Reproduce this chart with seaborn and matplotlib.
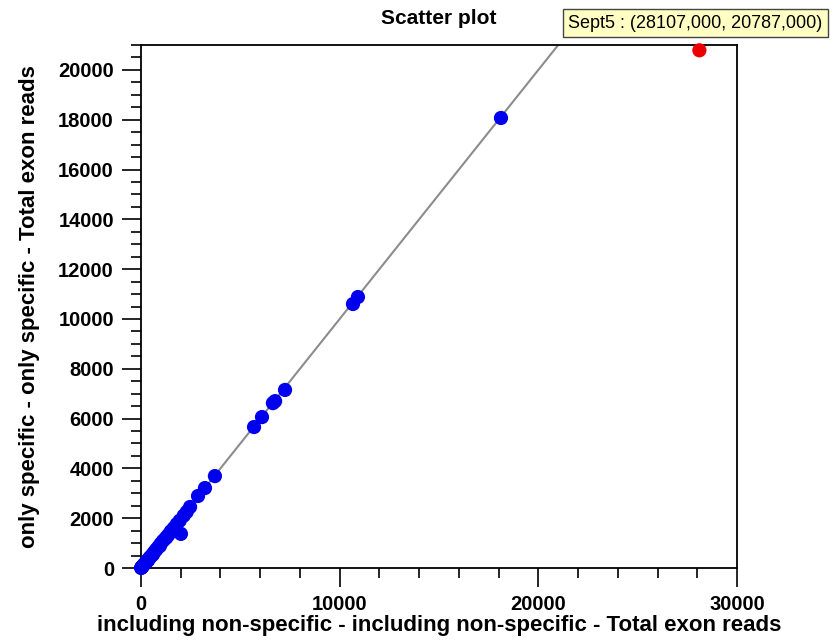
import matplotlib
matplotlib.use("Agg")
import matplotlib.pyplot as plt
import seaborn as sns
import pandas as pd
from matplotlib.ticker import MultipleLocator

x_vals = [18120, 10670, 10920, 7250, 6640, 6750, 6090, 5690, 3720, 3220, 2870, 2470,
          2010, 2150, 1950, 1800, 1650, 1500, 1380, 1250, 1120, 1000, 900, 800,
          720, 640, 560, 480, 420, 360, 300, 250, 200, 150, 110, 80, 50, 30, 15, 5,
          1700, 1300, 950, 600, 350, 2300]
y_vals = [18070, 10600, 10880, 7150, 6620, 6700, 6060, 5660, 3690, 3210, 2890, 2450,
          1370, 2100, 1900, 1760, 1600, 1470, 1330, 1200, 1100, 980, 870, 770,
          690, 610, 520, 450, 400, 330, 280, 230, 180, 140, 100, 70, 40, 20, 10, 3,
          1580, 1250, 880, 540, 300, 2250]
sel_x = [28107]
sel_y = [20787]
tooltip = "Sept5 : (28107,000, 20787,000)"

sns.set_style("white")
plt.rcParams['font.family'] = ['Liberation Sans', 'DejaVu Sans']
plt.rcParams['text.color'] = 'black'
plt.rcParams['axes.labelcolor'] = 'black'
plt.rcParams['xtick.color'] = 'black'
plt.rcParams['ytick.color'] = 'black'

fig = plt.figure(figsize=(8.39, 6.42), dpi=100)
ax = fig.add_axes([141/839, 1-568/642, (737-141)/839, (568-45)/642])

ax.plot([0, 30000], [0, 30000], color='#8c8c8c', lw=1.5, zorder=1)

df = pd.DataFrame({"x": x_vals, "y": y_vals})
sns.scatterplot(data=df, x="x", y="y", color='#0000ee', s=105, edgecolor='none',
                ax=ax, zorder=3, clip_on=False)
dsel = pd.DataFrame({"x": sel_x, "y": sel_y})
sns.scatterplot(data=dsel, x="x", y="y", color='#ee0000', s=105, edgecolor='none',
                ax=ax, zorder=4, clip_on=False)

ax.set_xlim(0, 30000)
ax.set_ylim(0, 21000)
ax.xaxis.set_major_locator(MultipleLocator(10000))
ax.xaxis.set_minor_locator(MultipleLocator(2000))
ax.yaxis.set_major_locator(MultipleLocator(2000))
ax.yaxis.set_minor_locator(MultipleLocator(500))
ax.tick_params(which='both', direction='out', color='black', width=1.2,
               bottom=True, left=True, top=False, right=False)
ax.tick_params(which='major', length=13.5, labelsize=14.5, pad=6)
ax.tick_params(which='minor', length=7)
for lab in ax.get_xticklabels() + ax.get_yticklabels():
    lab.set_fontweight('bold')
for sp in ax.spines.values():
    sp.set_color('black')
    sp.set_linewidth(1.3)

ax.set_xlabel("including non-specific - including non-specific - Total exon reads",
              fontsize=16, fontweight='bold', labelpad=1)
ax.set_ylabel("only specific - only specific - Total exon reads",
              fontsize=16, fontweight='bold', labelpad=13)
ax.set_title("Scatter plot", fontsize=15, fontweight='bold', pad=15)

fig.text(568/839, 1-23/642, tooltip, fontsize=13, va='center', ha='left',
         bbox=dict(boxstyle='square,pad=0.3', facecolor='#ffffc4', edgecolor='#444444', lw=1))

fig.savefig("out.png", dpi=100)
